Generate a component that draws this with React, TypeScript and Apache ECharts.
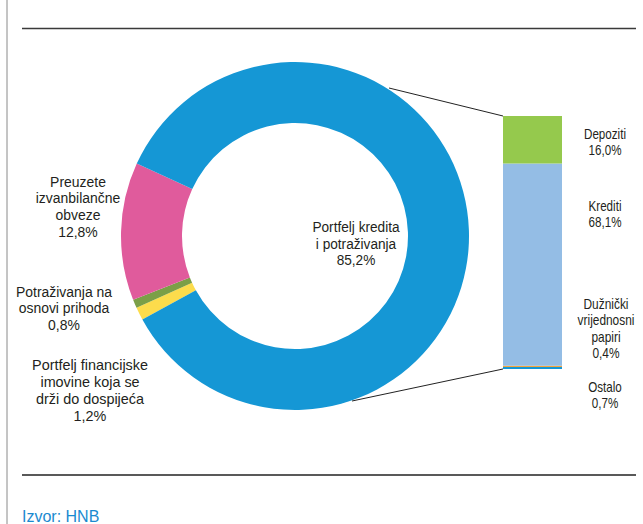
import React, { useEffect, useRef } from "react";
import * as echarts from "echarts";

// Donut (clockwise from the start angle)
const donutNames = [
  "Portfelj financijske imovine koja se drži do dospijeća",
  "Potraživanja na osnovi prihoda",
  "Preuzete izvanbilančne obveze",
  "Portfelj kredita i potraživanja",
];
const donutLabels = [
  "Portfelj financijske\nimovine koja se\ndrži do dospijeća",
  "Potraživanja na\nosnovi prihoda",
  "Preuzete\nizvanbilančne\nobveze",
  "Portfelj kredita\ni potraživanja",
];
const donutValues = [1.2, 0.8, 12.8, 85.2];
const donutColors = ["#fcdc4c", "#7b9f47", "#e05b9c", "#1597d5"];

// Breakdown bar (top to bottom)
const barNames = ["Depoziti", "Krediti", "Dužnički vrijednosni papiri", "Ostalo"];
const barLabels = ["Depoziti", "Krediti", "Dužnički\nvrijednosni\npapiri", "Ostalo"];
const barValues = [16.0, 68.1, 0.4, 0.7];
const barColors = ["#95c94d", "#94bde5", "#f4a53c", "#1597d5"];

const sourceText = "Izvor: HNB";

const fmt = (v: number) => v.toFixed(1).replace(".", ",") + "%";

const FONT = "'Liberation Sans', Arial, sans-serif";
const TXT = "#231f20";

export default function App() {
  const ref = useRef<HTMLDivElement>(null);
  useEffect(() => {
    document.body.style.margin = "0";
    const chart = echarts.init(ref.current!, undefined, { renderer: "svg" });
    const barTotal = barValues.reduce((a, b) => a + b, 0);

    const textEl = (text: string, x: number, y: number, size: number, lh: number, sx: number) => ({
      type: "text",
      x,
      y,
      scaleX: sx,
      style: {
        text,
        fill: TXT,
        fontFamily: FONT,
        fontSize: size,
        lineHeight: lh,
        align: "center",
        verticalAlign: "top",
      },
    });

    const barSeries = barNames
      .map((name, i) => ({
        name,
        type: "bar",
        stack: "s",
        barWidth: "100%",
        data: [barValues[i]],
        itemStyle: { color: barColors[i], borderWidth: 0 },
        label: { show: false },
        emphasis: { disabled: true },
      }))
      .reverse();

    chart.setOption({
      animation: false,
      grid: { left: 503, top: 116, width: 59, height: 253, containLabel: false },
      xAxis: { type: "category", data: ["x"], show: false },
      yAxis: { type: "value", min: 0, max: barTotal, show: false },
      series: [
        {
          type: "pie",
          center: [295, 236],
          radius: [113, 174],
          startAngle: 208.7,
          clockwise: true,
          label: { show: false },
          labelLine: { show: false },
          emphasis: { disabled: true },
          itemStyle: { borderWidth: 0 },
          data: donutNames.map((name, i) => ({
            name,
            value: donutValues[i],
            itemStyle: { color: donutColors[i] },
          })),
        },
        ...barSeries,
      ],
      graphic: [
        { type: "line", shape: { x1: 7, y1: 0, x2: 7, y2: 524 }, style: { stroke: "#8a8a8a", lineWidth: 1 } },
        { type: "line", shape: { x1: 22, y1: 28.5, x2: 636, y2: 28.5 }, style: { stroke: "#3a3a3a", lineWidth: 1.3 } },
        { type: "line", shape: { x1: 22, y1: 475, x2: 636, y2: 475 }, style: { stroke: "#222", lineWidth: 1.3 } },
        { type: "line", shape: { x1: 389, y1: 88, x2: 503, y2: 116 }, style: { stroke: "#222", lineWidth: 1 } },
        { type: "line", shape: { x1: 352, y1: 401, x2: 503, y2: 369 }, style: { stroke: "#222", lineWidth: 1 } },
        textEl(donutLabels[3] + "\n" + fmt(donutValues[3]), 356, 219, 15, 16.5, 0.91),
        textEl(donutLabels[2] + "\n" + fmt(donutValues[2]), 78, 173, 15, 16.7, 0.93),
        textEl(donutLabels[1] + "\n" + fmt(donutValues[1]), 64, 283, 15, 16.7, 0.93),
        textEl(donutLabels[0] + "\n" + fmt(donutValues[0]), 90, 356, 15, 17, 0.96),
        textEl(barLabels[0] + "\n" + fmt(barValues[0]), 605, 126, 14, 16.3, 0.83),
        textEl(barLabels[1] + "\n" + fmt(barValues[1]), 605, 198, 14, 16.3, 0.83),
        textEl(barLabels[2] + "\n" + fmt(barValues[2]), 606, 296, 14, 16.3, 0.85),
        textEl(barLabels[3] + "\n" + fmt(barValues[3]), 605, 379, 14, 16.3, 0.83),
        {
          type: "text",
          x: 22,
          y: 524,
          style: {
            text: sourceText,
            fill: "#1a8ad0",
            fontFamily: FONT,
            fontSize: 16,
            align: "left",
            verticalAlign: "bottom",
          },
        },
      ],
    });
    return () => chart.dispose();
  }, []);
  return (
    <div
      ref={ref}
      style={{ position: "absolute", left: 0, top: 0, width: 643, height: 524, background: "#fff" }}
    />
  );
}
